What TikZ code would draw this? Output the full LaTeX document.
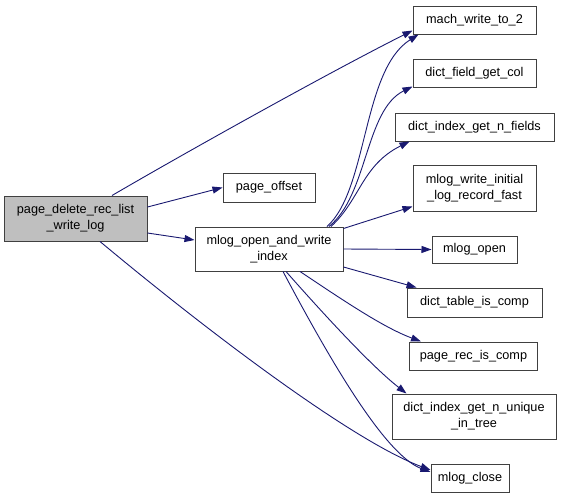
\documentclass[tikz,border=0pt]{standalone}
\usepackage{fontspec}
\setmainfont{Liberation Sans}
\usetikzlibrary{arrows.meta}
\definecolor{edgeblue}{HTML}{191970}
\definecolor{boxline}{HTML}{404040}
\definecolor{rootfill}{HTML}{BFBFBF}
\tikzset{
  fn/.style={draw=boxline, line width=1pt, fill=white, inner sep=0pt, align=center,
    font=\fontsize{12.7pt}{16pt}\selectfont},
  rootfn/.style={fn, fill=rootfill},
  call/.style={draw=edgeblue, line width=0.9pt, -{Triangle[length=10pt,width=7pt]}}
}
\begin{document}
\begin{tikzpicture}[x=1pt,y=-1pt]
\useasboundingbox (0,0) rectangle (563,499);
% nodes
\node[rootfn, minimum width=143pt, minimum height=45pt] (root) at (75.5,218.5) {page\_delete\_rec\_list\\\_write\_log};
\node[fn, minimum width=92pt, minimum height=29pt] (poff) at (269,187.5) {page\_offset};
\node[fn, minimum width=148pt, minimum height=44pt] (mlogw) at (269,249) {mlog\_open\_and\_write\\\_index};
\node[fn, minimum width=123pt, minimum height=28pt] (mach) at (474.5,20) {mach\_write\_to\_2};
\node[fn, minimum width=123pt, minimum height=28pt] (dfgc) at (474.5,73) {dict\_field\_get\_col};
\node[fn, minimum width=159pt, minimum height=28pt] (dignf) at (474.5,127) {dict\_index\_get\_n\_fields};
\node[fn, minimum width=123pt, minimum height=46pt] (mwil) at (474.5,188) {mlog\_write\_initial\\\_log\_record\_fast};
\node[fn, minimum width=85pt, minimum height=27pt] (mopen) at (474.5,249.5) {mlog\_open};
\node[fn, minimum width=135pt, minimum height=29pt] (dtic) at (474.5,302.5) {dict\_table\_is\_comp};
\node[fn, minimum width=128pt, minimum height=28pt] (pric) at (473.5,356) {page\_rec\_is\_comp};
\node[fn, minimum width=164pt, minimum height=45pt] (dignu) at (474,416.5) {dict\_index\_get\_n\_unique\\\_in\_tree};
\node[fn, minimum width=78pt, minimum height=28pt] (mclose) at (470,478) {mlog\_close};
% edges from root
\draw[call] ([xshift=36.5pt]root.north) .. controls (190,150) and (330,72) .. ([yshift=4pt]mach.south west);
\draw[call] ([yshift=11.5pt]root.east) -- (poff.west);
\draw[call] ([yshift=-14.5pt]root.east) -- ([yshift=9pt]mlogw.west);
\draw[call] ([xshift=24.5pt]root.south) .. controls (200,325) and (350,440) .. ([yshift=8pt]mclose.west);
% edges from mlog_open_and_write_index
\draw[call] ([xshift=58pt]mlogw.north) .. controls (368,190) and (362,70) .. ([xshift=6pt]mach.south west);
\draw[call] ([xshift=60pt]mlogw.north) .. controls (368,195) and (365,110) .. ([yshift=1pt]dfgc.south west);
\draw[call] ([xshift=62pt]mlogw.north) .. controls (360,200) and (362,165) .. ([xshift=15pt]dignf.south west);
\draw[call] ([yshift=-2pt]mlogw.north east) -- ([yshift=5pt]mwil.south west);
\draw[call] (mlogw.east) -- (mopen.west);
\draw[call] ([yshift=-18pt]mlogw.east) -- ([xshift=10pt]dtic.north west);
\draw[call] ([xshift=31pt]mlogw.south) .. controls (350,305) and (385,328) .. ([xshift=12pt]pric.north west);
\draw[call] ([xshift=17pt]mlogw.south) .. controls (320,310) and (370,365) .. ([xshift=15pt]dignu.north west);
\draw[call] ([xshift=14pt]mlogw.south) .. controls (330,360) and (385,455) .. ([yshift=6pt]mclose.west);
\end{tikzpicture}
\end{document}
